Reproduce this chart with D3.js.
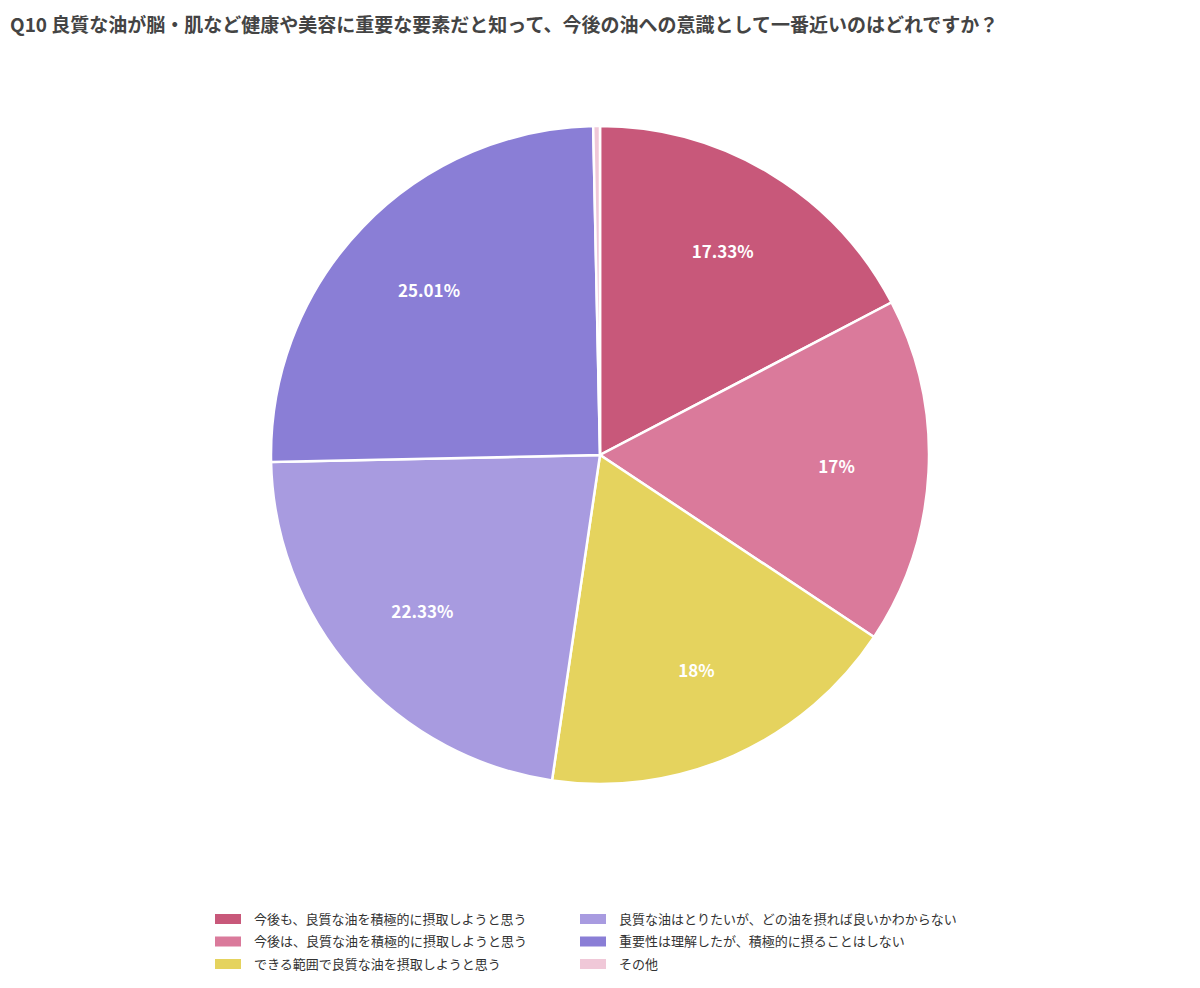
<!DOCTYPE html>
<html><head><meta charset="utf-8">
<script src="https://cdn.jsdelivr.net/npm/d3@7/dist/d3.min.js"></script>
<style>body{margin:0;background:#fff;font-family:"Noto Sans CJK JP","Noto Sans",sans-serif;}</style>
</head><body><svg id="c" width="1200" height="988"></svg>
<script>
const categories = ["今後も、良質な油を積極的に摂取しようと思う","今後は、良質な油を積極的に摂取しようと思う","できる範囲で良質な油を摂取しようと思う","良質な油はとりたいが、どの油を摂れば良いかわからない","重要性は理解したが、積極的に摂ることはしない","その他"];
const values = [17.33,17,18,22.33,25.01,0.33];
const labels = ["17.33%","17%","18%","22.33%","25.01%",""];
const colors = ["#c8587a","#da7a9b","#e5d35e","#a89be0","#8a7ed6","#f0c8d8"];
const title = "Q10 良質な油が脳・肌など健康や美容に重要な要素だと知って、今後の油への意識として一番近いのはどれですか？";

const svg = d3.select("#c");
svg.append("text").attr("x",10).attr("y",32).attr("font-size",19).attr("font-weight","bold").attr("fill","#444").text(title);
const cx=600, cy=455, r=329;
const pie = d3.pie().sort(null).value(d=>d)(values);
const arc = d3.arc().innerRadius(0).outerRadius(r);
const g = svg.append("g").attr("transform",`translate(${cx},${cy})`);
g.selectAll("path").data(pie).join("path").attr("d",arc).attr("fill",(d,i)=>colors[i]).attr("stroke","#fff").attr("stroke-width",2.5);
const la = d3.arc().innerRadius(r*0.72).outerRadius(r*0.72);
g.selectAll("text").data(pie).join("text").attr("transform",d=>`translate(${la.centroid(d)})`)
 .attr("text-anchor","middle").attr("dy","0.35em").attr("fill","#fff").attr("font-size",17).attr("font-weight","bold")
 .text((d,i)=>labels[i]);
const lg = svg.append("g");
categories.forEach((c,i)=>{
  const col=Math.floor(i/3), row=i%3;
  const x = col?580:215, y = 919+row*22.5;
  lg.append("rect").attr("x",x).attr("y",y-5).attr("width",26).attr("height",10).attr("fill",colors[i]);
  lg.append("text").attr("x",x+39).attr("y",y).attr("dy","0.35em").attr("font-size",13).attr("fill","#333").text(c);
});
</script></body></html>
